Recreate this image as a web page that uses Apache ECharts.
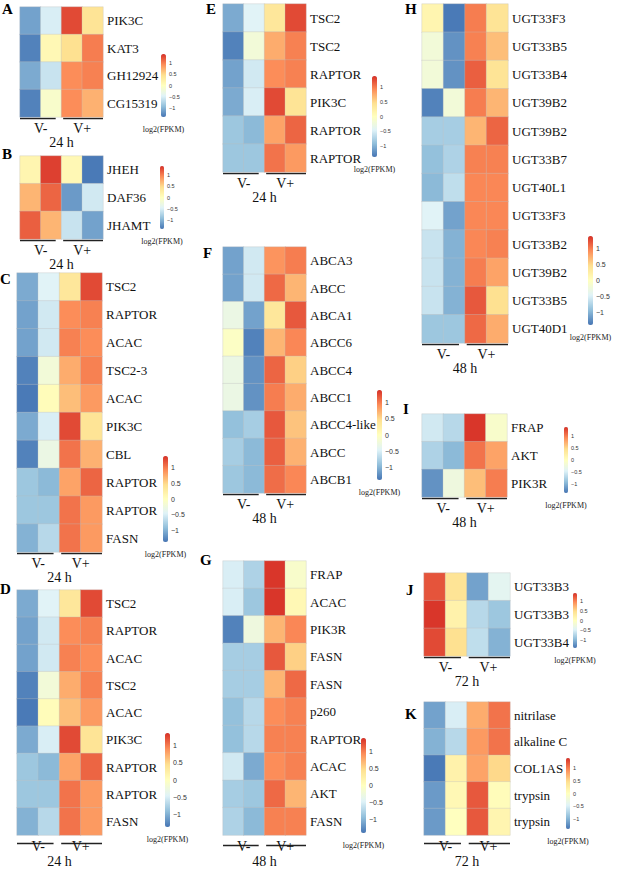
<!DOCTYPE html>
<html lang="en">
<head>
    <meta charset="UTF-8">
    <title>Heatmaps A-K</title>
    <script src="https://cdn.jsdelivr.net/npm/echarts@6/dist/echarts.min.js"></script>
    <style>
        html, body { margin: 0; padding: 0; background: #fff; }
        #chart { width: 617px; height: 869px; }
    </style>
</head>
<body>
    <div id="chart"></div>
    <script>
        // row labels and row-scaled log2(FPKM) values (columns: V-, V-, V+, V+)
        const rowsA = ['PIK3C', 'KAT3', 'GH12924', 'CG15319'];
        const valsA = [
            [-1.1, -0.5, 1.25, 0.4],
            [-1.3, 0.1, 0.45, 1.0],
            [-1.05, -0.6, 0.92, 0.98],
            [-1.3, -0.1, 0.92, 0.72]
        ];
        const rowsB = ['JHEH', 'DAF36', 'JHAMT'];
        const valsB = [
            [0.15, 1.3, 0.1, -1.35],
            [0.7, 1.12, -1.15, -0.55],
            [1.15, 0.7, -0.6, -1.1]
        ];
        const rowsC = ['TSC2', 'RAPTOR', 'ACAC', 'TSC2-3', 'ACAC', 'PIK3C', 'CBL', 'RAPTOR', 'RAPTOR', 'FASN'];
        const valsC = [
            [-1.05, -0.45, 0.35, 1.25],
            [-1.1, -0.55, 0.92, 0.98],
            [-1.1, -0.55, 0.98, 0.92],
            [-1.3, -0.2, 0.75, 0.98],
            [-1.35, 0.05, 0.65, 0.85],
            [-1.05, -0.5, 1.25, 0.4],
            [-1.3, -0.3, 1.05, 0.72],
            [-0.85, -0.95, 0.8, 1.12],
            [-0.85, -0.85, 1.05, 0.85],
            [-1.0, -0.7, 1.05, 0.85]
        ];
        const rowsD = ['TSC2', 'RAPTOR', 'ACAC', 'TSC2', 'ACAC', 'PIK3C', 'RAPTOR', 'RAPTOR', 'FASN'];
        const valsD = [
            [-1.05, -0.45, 0.35, 1.25],
            [-1.1, -0.55, 0.92, 0.98],
            [-1.1, -0.55, 0.98, 0.92],
            [-1.3, -0.2, 0.75, 0.98],
            [-1.35, 0.05, 0.65, 0.85],
            [-1.05, -0.5, 1.25, 0.4],
            [-0.85, -0.95, 0.8, 1.12],
            [-0.85, -0.85, 1.05, 0.85],
            [-1.0, -0.7, 1.05, 0.85]
        ];
        const rowsE = ['TSC2', 'TSC2', 'RAPTOR', 'PIK3C', 'RAPTOR', 'RAPTOR'];
        const valsE = [
            [-1.05, -0.45, 0.35, 1.25],
            [-1.3, -0.2, 0.75, 0.98],
            [-1.1, -0.55, 0.92, 0.98],
            [-1.05, -0.5, 1.25, 0.4],
            [-0.85, -0.95, 0.8, 1.12],
            [-0.85, -0.85, 1.05, 0.85]
        ];
        const rowsF = ['ABCA3', 'ABCC', 'ABCA1', 'ABCC6', 'ABCC4', 'ABCC1', 'ABCC4-like', 'ABCC', 'ABCB1'];
        const valsF = [
            [-1.1, -0.55, 0.88, 1.0],
            [-1.1, -0.55, 1.1, 0.7],
            [-0.3, -1.1, 0.35, 1.18],
            [-0.05, -1.3, 0.7, 0.95],
            [-0.3, -1.2, 1.12, 0.55],
            [-0.3, -1.2, 1.0, 0.75],
            [-0.9, -0.8, 1.18, 0.62],
            [-0.8, -0.95, 1.15, 0.72],
            [-0.85, -0.95, 1.08, 0.95]
        ];
        const rowsG = ['FRAP', 'ACAC', 'PIK3R', 'FASN', 'FASN', 'p260', 'RAPTOR', 'ACAC', 'AKT', 'FASN'];
        const valsG = [
            [-0.5, -0.75, 1.35, -0.1],
            [-0.5, -0.85, 1.35, 0.1],
            [-1.3, -0.25, 0.7, 0.95],
            [-0.8, -0.8, 1.18, 0.55],
            [-0.8, -0.8, 0.7, 1.1],
            [-0.9, -0.7, 0.92, 0.98],
            [-0.9, -0.7, 0.98, 0.98],
            [-0.55, -1.05, 0.92, 0.98],
            [-0.8, -0.85, 1.1, 0.7],
            [-0.75, -0.95, 0.98, 0.98]
        ];
        const rowsH = ['UGT33F3', 'UGT33B5', 'UGT33B4', 'UGT39B2', 'UGT39B2', 'UGT33B7',
                       'UGT40L1', 'UGT33F3', 'UGT33B2', 'UGT39B2', 'UGT33B5', 'UGT40D1'];
        const valsH = [
            [0.15, -1.35, 1.0, 0.4],
            [-0.2, -1.2, 0.98, 0.65],
            [-0.2, -1.2, 1.15, 0.4],
            [-1.3, -0.2, 1.0, 0.7],
            [-0.8, -0.8, 0.7, 1.12],
            [-0.9, -0.75, 0.98, 0.98],
            [-0.95, -0.65, 0.95, 0.95],
            [-0.45, -1.1, 0.95, 0.95],
            [-0.6, -1.0, 0.95, 0.98],
            [-0.6, -1.0, 1.0, 0.8],
            [-0.6, -1.0, 1.18, 0.45],
            [-0.85, -0.85, 1.1, 0.75]
        ];
        const rowsI = ['FRAP', 'AKT', 'PIK3R'];
        const valsI = [
            [-0.55, -0.7, 1.35, -0.1],
            [-0.75, -0.95, 1.05, 0.8],
            [-1.2, -0.25, 0.65, 1.0]
        ];
        const rowsJ = ['UGT33B3', 'UGT33B3', 'UGT33B4'];
        const valsJ = [
            [1.2, 0.4, -1.1, -0.4],
            [1.35, 0.2, -0.7, -0.85],
            [1.25, 0.45, -0.65, -1.0]
        ];
        const rowsK = ['nitrilase', 'alkaline C', 'COL1AS', 'trypsin', 'trypsin'];
        const valsK = [
            [-1.1, -0.5, 0.75, 1.05],
            [-1.0, -0.7, 0.85, 1.05],
            [-1.35, 0.2, 0.8, 0.5],
            [-1.15, 0.1, 1.18, 0.05],
            [-1.15, 0.0, 1.18, 0.15]
        ];
        const groups = ['V-', 'V+'];
        const legendTicks = [-1, -0.5, 0, 0.5, 1];
        const legendName = 'log2(FPKM)';

        // rev(RdYlBu) as used by pheatmap
        const palette = ['#4575B4', '#91BFDB', '#E0F3F8', '#FFFFBF', '#FEE090', '#FC8D59', '#D73027'];
        const serif = 'Liberation Serif';
        const range = 1.38;

        // layout: grid [left, top, width, height], colour bar [left, top, width, height], letter [x, y]
        const panels = [
            { id: 'A', rows: rowsA, vals: valsA, time: '24 h', g: [20, 7, 83, 110], cb: [161, 54, 5, 63], tag: [2, 1] },
            { id: 'B', rows: rowsB, vals: valsB, time: '24 h', g: [20, 156, 83, 83], cb: [160, 166, 4, 63], tag: [2, 146] },
            { id: 'C', rows: rowsC, vals: valsC, time: '24 h', g: [17, 273, 85, 279], cb: [163, 456, 5, 86], tag: [0, 271] },
            { id: 'D', rows: rowsD, vals: valsD, time: '24 h', g: [17, 590, 85, 252], cb: [165, 733, 5, 94], tag: [0, 581] },
            { id: 'E', rows: rowsE, vals: valsE, time: '24 h', g: [223, 4, 83, 168], cb: [372, 76, 5, 81], tag: [206, 1] },
            { id: 'F', rows: rowsF, vals: valsF, time: '48 h', g: [223, 247, 83, 246], cb: [377, 390, 5, 90], tag: [203, 245] },
            { id: 'G', rows: rowsG, vals: valsG, time: '48 h', g: [223, 561, 83, 283], cb: [361, 738, 5, 95], tag: [200, 552] },
            { id: 'H', rows: rowsH, vals: valsH, time: '48 h', g: [422, 4, 86, 339], cb: [588, 236, 5, 89], tag: [405, 1] },
            { id: 'I', rows: rowsI, vals: valsI, time: '48 h', g: [422, 414, 85, 83], cb: [564, 427, 4, 66], tag: [403, 401] },
            { id: 'J', rows: rowsJ, vals: valsJ, time: '72 h', g: [424, 573, 86, 83], cb: [573, 593, 4, 55], tag: [406, 582] },
            { id: 'K', rows: rowsK, vals: valsK, time: '72 h', g: [424, 702, 86, 140], cb: [566, 758, 4, 71], tag: [405, 706] }
        ];

        const grid = [], xAxis = [], yAxis = [], series = [], visualMap = [], graphic = [];

        panels.forEach((p, i) => {
            const [l, t, w, h] = p.g;
            const [cl, ct, cw, ch] = p.cb;

            // heatmap grid
            grid.push({ left: l, top: t, width: w, height: h });
            const gi = grid.length - 1;
            xAxis.push({ type: 'category', gridIndex: gi, data: [0, 1, 2, 3], position: 'top', show: false });
            const xi = xAxis.length - 1;
            xAxis.push({
                type: 'category', gridIndex: gi, data: groups, position: 'bottom',
                axisLine: { show: false }, axisTick: { show: false },
                axisLabel: { margin: 4, fontSize: 14, fontFamily: serif, color: '#111' },
                name: p.time, nameLocation: 'middle', nameGap: 18,
                nameTextStyle: { fontSize: 14, fontFamily: serif, color: '#111', verticalAlign: 'top' }
            });
            yAxis.push({
                type: 'category', gridIndex: gi, data: p.rows, inverse: true, position: 'right',
                axisLine: { show: false }, axisTick: { show: false }, splitLine: { show: false },
                axisLabel: { margin: 4, fontSize: 13, fontFamily: serif, color: '#111' }
            });
            const yi = yAxis.length - 1;
            const cells = [];
            p.vals.forEach((row, r) => row.forEach((v, c) => cells.push([c, r, v])));
            series.push({
                type: 'heatmap', xAxisIndex: xi, yAxisIndex: yi, data: cells, silent: true,
                itemStyle: { borderColor: 'rgba(190,190,190,0.55)', borderWidth: 0.6 },
                emphasis: { disabled: true }
            });
            visualMap.push({
                type: 'continuous', seriesIndex: i, min: -range, max: range,
                inRange: { color: palette }, left: cl, top: ct, itemWidth: cw, itemHeight: ch,
                calculable: false, padding: 0, text: null, showLabel: false, hoverLink: false
            });

            // colour bar scale
            grid.push({ left: cl, top: ct, width: cw, height: ch });
            const cgi = grid.length - 1;
            xAxis.push({
                type: 'value', gridIndex: cgi, min: 0, max: 1,
                axisLine: { show: false }, axisTick: { show: false }, axisLabel: { show: false },
                splitLine: { show: false },
                name: legendName, nameLocation: 'middle', nameGap: 8,
                nameTextStyle: { fontSize: 8, fontFamily: serif, color: '#222', verticalAlign: 'top' }
            });
            yAxis.push({
                type: 'value', gridIndex: cgi, min: -range, max: range, position: 'right',
                axisLine: { show: false }, axisTick: { show: false }, splitLine: { show: false },
                axisLabel: {
                    margin: 3, fontSize: ch > 85 ? 7 : 5.5, color: '#333', fontFamily: 'Liberation Sans',
                    customValues: legendTicks,
                    formatter: v => (v < 0 ? '\u2212' + Math.abs(v) : String(v))
                }
            });

            // group underlines and panel letter
            const ly = t + h + 1.5;
            graphic.push({ type: 'line', shape: { x1: l, y1: ly, x2: l + w * 0.43, y2: ly }, style: { stroke: '#222', lineWidth: 1.5 }, silent: true });
            graphic.push({ type: 'line', shape: { x1: l + w * 0.52, y1: ly, x2: l + w, y2: ly }, style: { stroke: '#222', lineWidth: 1.5 }, silent: true });
            graphic.push({
                type: 'text', left: p.tag[0], top: p.tag[1], silent: true,
                style: { text: p.id, fontSize: 15, fontWeight: 'bold', fontFamily: serif, fill: '#000' }
            });
        });

        const chart = echarts.init(document.getElementById('chart'), null, { renderer: 'svg' });
        chart.setOption({
            animation: false,
            backgroundColor: '#fff',
            grid, xAxis, yAxis, series, visualMap, graphic
        });
    </script>
</body>
</html>
